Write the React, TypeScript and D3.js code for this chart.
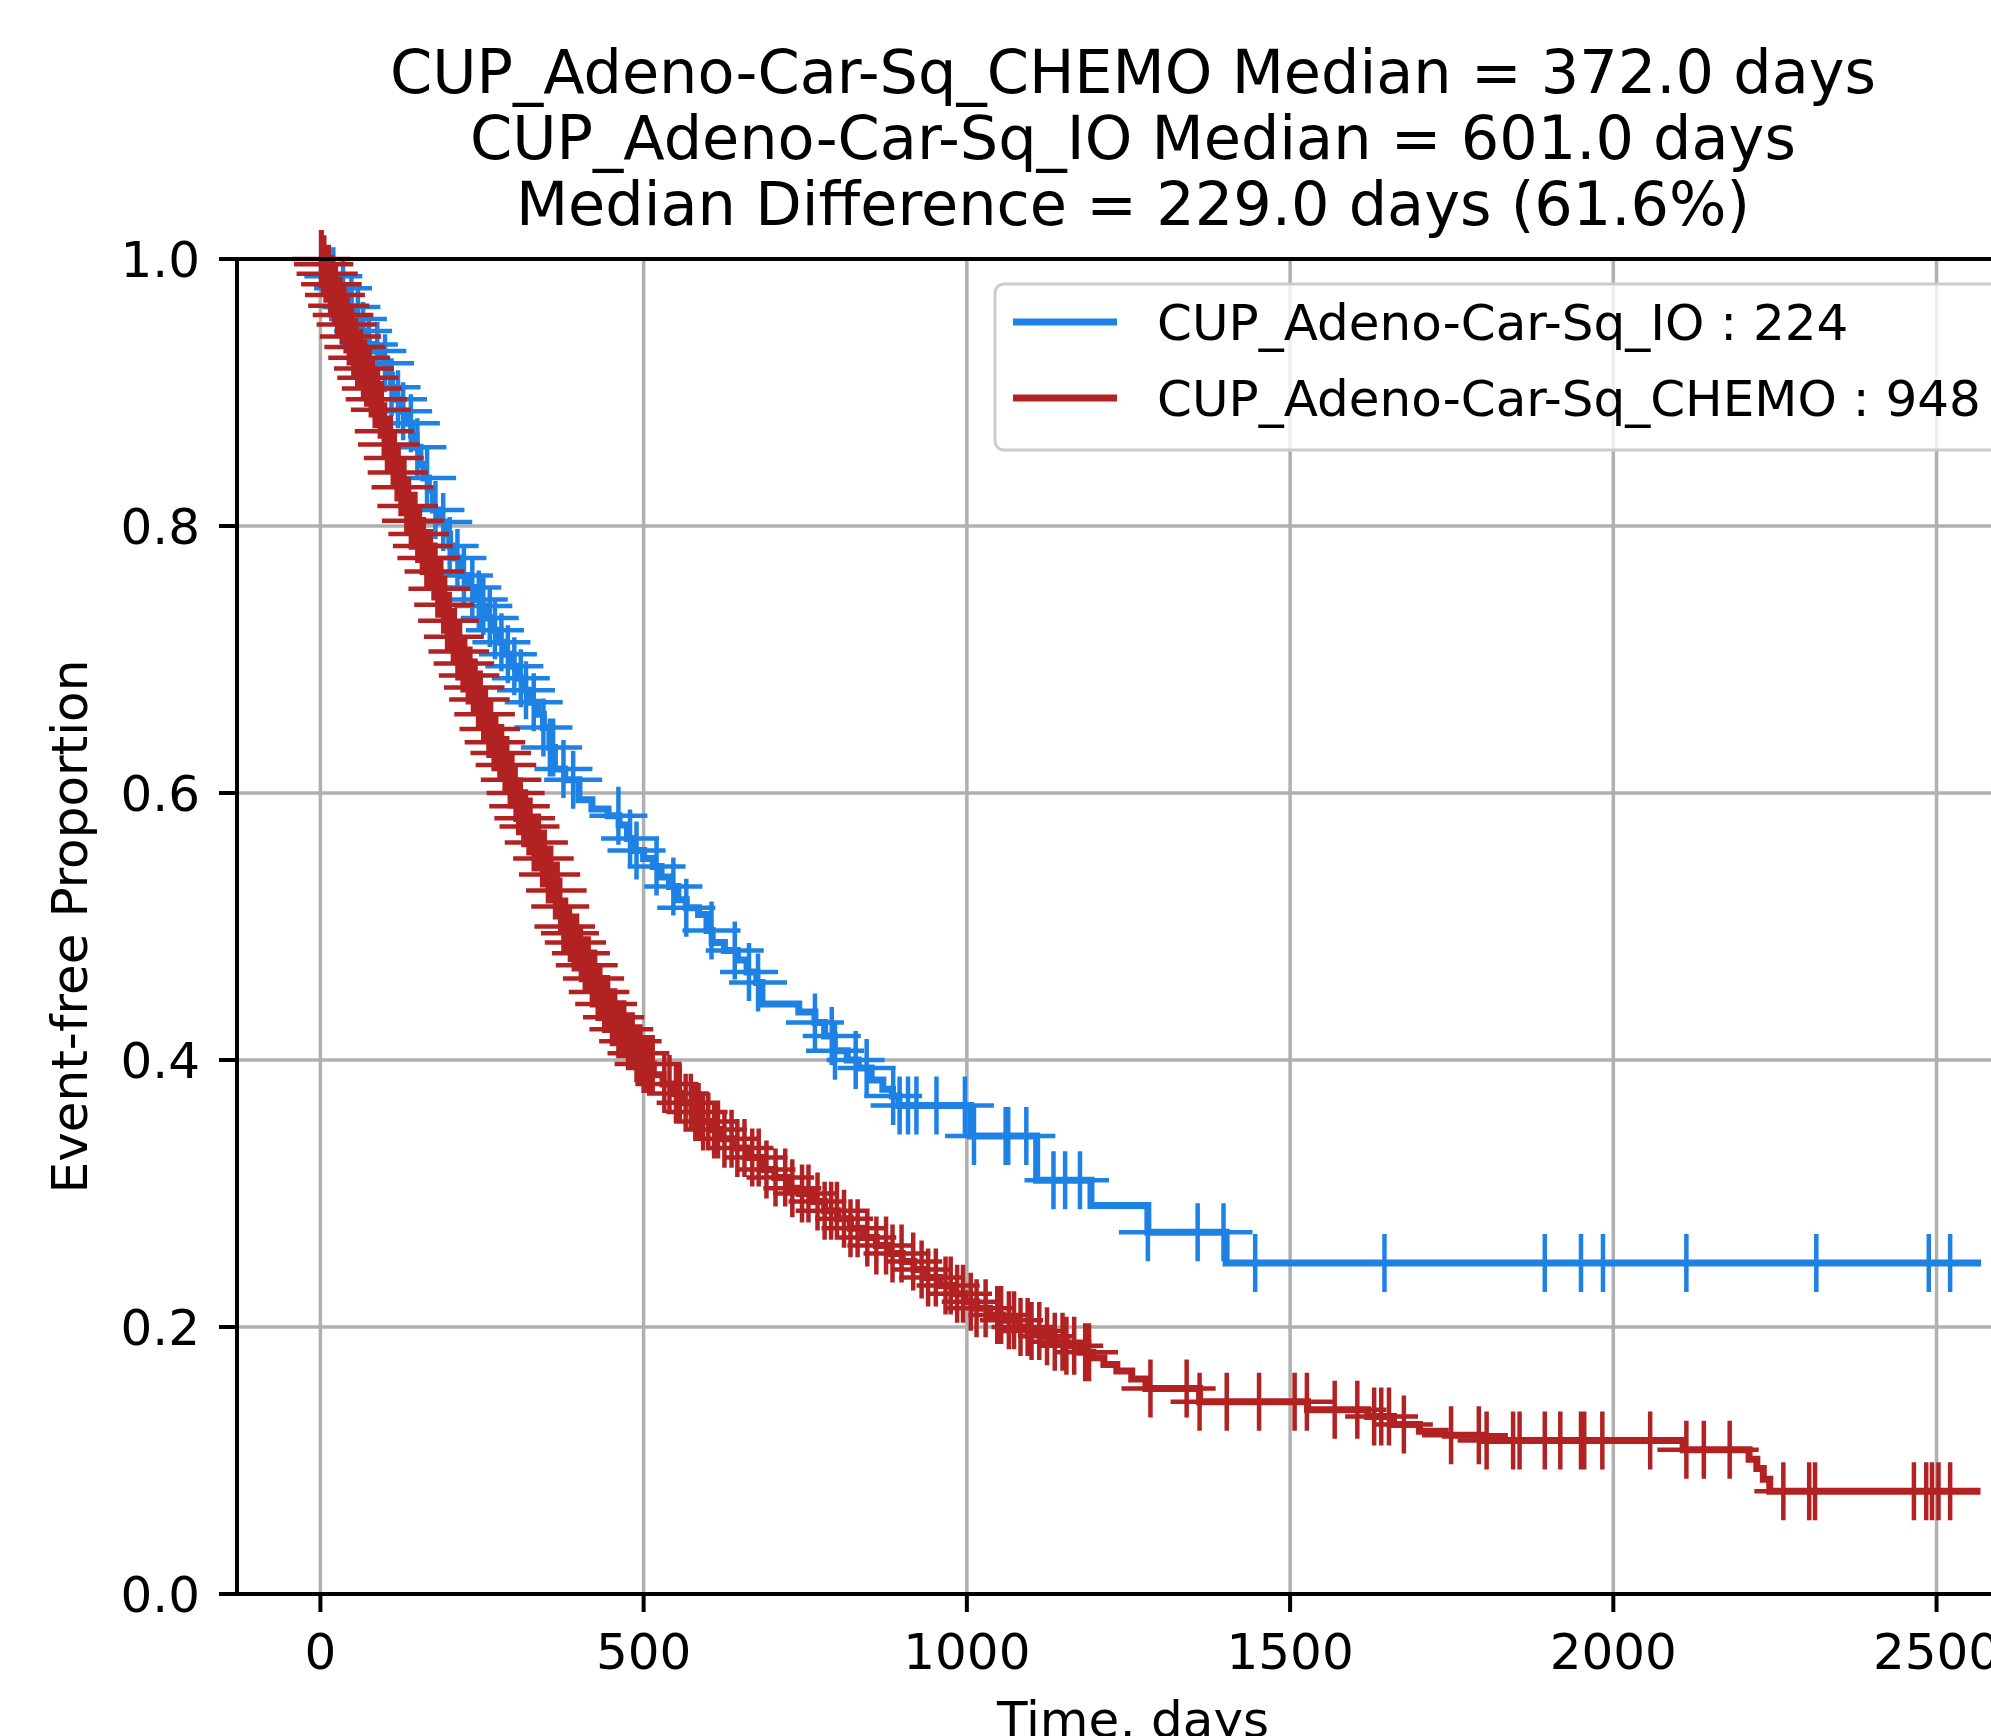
import React from 'react';
import * as d3 from 'd3';

// labels / text
const ioLabel = 'CUP_Adeno-Car-Sq_IO';
const chemoLabel = 'CUP_Adeno-Car-Sq_CHEMO';
const ioCount = 224;
const chemoCount = 948;
const titleLines = [
  'CUP_Adeno-Car-Sq_CHEMO Median = 372.0 days',
  'CUP_Adeno-Car-Sq_IO Median = 601.0 days',
  'Median Difference = 229.0 days (61.6%)',
];
const xTicks = [0, 500, 1000, 1500, 2000, 2500];
const yTicks = [0.0, 0.2, 0.4, 0.6, 0.8, 1.0];

// IO arm: step times (days) and survival after each step
const ioTimes = [0, 5, 12, 18, 25, 32, 40, 46, 53, 60, 67, 74, 82, 90, 97, 104, 110, 118, 126, 134, 141, 148, 154, 160, 167, 175, 183, 192, 200, 208, 218, 228, 238, 248, 258, 268, 278, 288, 298, 306, 316, 326, 336, 345, 355, 362, 378, 400, 420, 445, 462, 475, 486, 500, 515, 527, 540, 553, 566, 585, 598, 606, 625, 645, 660, 675, 683, 740, 765, 780, 795, 815, 832, 852, 870, 885, 895, 1006, 1108, 1192, 1280, 1401];
const ioSurv = [1.0, 0.996, 0.991, 0.987, 0.982, 0.978, 0.973, 0.964, 0.955, 0.946, 0.941, 0.936, 0.931, 0.927, 0.922, 0.913, 0.904, 0.895, 0.886, 0.877, 0.868, 0.859, 0.846, 0.836, 0.827, 0.812, 0.803, 0.794, 0.785, 0.776, 0.763, 0.754, 0.745, 0.740, 0.731, 0.722, 0.713, 0.704, 0.695, 0.686, 0.677, 0.668, 0.659, 0.649, 0.634, 0.618, 0.610, 0.595, 0.588, 0.583, 0.576, 0.566, 0.557, 0.551, 0.545, 0.537, 0.530, 0.520, 0.514, 0.509, 0.497, 0.488, 0.482, 0.475, 0.466, 0.458, 0.442, 0.436, 0.428, 0.418, 0.407, 0.400, 0.394, 0.385, 0.378, 0.373, 0.366, 0.343, 0.310, 0.291, 0.271, 0.248];
const ioEnd = 2569;
const ioCensored = [20, 35, 48, 58, 66, 75, 88, 100, 110, 120, 128, 140, 150, 165, 178, 190, 200, 212, 222, 235, 245, 252, 262, 270, 280, 290, 300, 310, 318, 330, 345, 355, 360, 376, 391, 461, 479, 489, 520, 546, 566, 605, 641, 663, 677, 765, 791, 796, 828, 845, 886, 896, 909, 922, 953, 997, 1011, 1060, 1064, 1092, 1134, 1152, 1175, 1280, 1357, 1397, 1446, 1646, 1894, 1950, 1984, 2113, 2314, 2488, 2521];

// CHEMO arm
const chemoTimes = [0, 3, 8, 14, 20, 26, 32, 38, 44, 50, 57, 64, 70, 77, 84, 90, 97, 103, 110, 117, 124, 132, 140, 148, 156, 164, 172, 180, 188, 195, 202, 210, 218, 226, 234, 241, 250, 258, 266, 274, 282, 290, 298, 306, 313, 320, 330, 340, 350, 360, 368, 375, 382, 390, 398, 408, 418, 428, 437, 448, 460, 472, 486, 500, 515, 530, 545, 560, 575, 590, 604, 622, 640, 660, 683, 703, 722, 741, 761, 780, 800, 820, 840, 860, 880, 900, 918, 938, 958, 978, 997, 1015, 1035, 1055, 1075, 1095, 1115, 1135, 1154, 1175, 1195, 1212, 1232, 1255, 1277, 1360, 1527, 1620, 1660, 1700, 1740, 1800, 2108, 2210, 2222, 2232, 2242];
const chemoSurv = [1.0, 0.996, 0.989, 0.981, 0.973, 0.965, 0.958, 0.951, 0.942, 0.934, 0.926, 0.918, 0.911, 0.903, 0.895, 0.887, 0.871, 0.861, 0.851, 0.840, 0.829, 0.815, 0.804, 0.794, 0.785, 0.776, 0.766, 0.753, 0.741, 0.729, 0.717, 0.706, 0.697, 0.688, 0.679, 0.670, 0.659, 0.648, 0.638, 0.630, 0.621, 0.610, 0.600, 0.590, 0.581, 0.575, 0.563, 0.551, 0.539, 0.527, 0.515, 0.500, 0.495, 0.488, 0.480, 0.471, 0.461, 0.451, 0.442, 0.432, 0.423, 0.414, 0.405, 0.397, 0.389, 0.382, 0.375, 0.368, 0.361, 0.354, 0.348, 0.341, 0.334, 0.327, 0.318, 0.312, 0.304, 0.300, 0.294, 0.287, 0.281, 0.274, 0.267, 0.261, 0.255, 0.249, 0.243, 0.237, 0.231, 0.225, 0.219, 0.214, 0.209, 0.205, 0.200, 0.197, 0.193, 0.189, 0.186, 0.181, 0.177, 0.172, 0.167, 0.161, 0.154, 0.144, 0.138, 0.133, 0.127, 0.122, 0.119, 0.115, 0.108, 0.101, 0.094, 0.086, 0.077];
const chemoEnd = 2568;
const chemoCensored = [1, 2, 4, 6, 8, 10, 12, 13, 15, 17, 19, 21, 23, 24, 26, 28, 30, 31, 33, 35, 37, 39, 41, 42, 44, 46, 48, 49, 51, 53, 55, 57, 59, 61, 63, 66, 68, 69, 71, 73, 76, 78, 80, 81, 84, 86, 89, 92, 94, 95, 98, 100, 103, 106, 109, 112, 114, 115, 118, 121, 124, 127, 130, 133, 135, 137, 140, 143, 147, 150, 152, 154, 157, 160, 164, 167, 169, 171, 175, 178, 181, 184, 187, 190, 193, 196, 200, 205, 208, 212, 216, 220, 224, 228, 232, 236, 240, 244, 248, 252, 256, 260, 264, 268, 272, 277, 281, 285, 289, 293, 297, 302, 306, 310, 314, 318, 322, 325, 330, 334, 338, 343, 347, 352, 357, 363, 367, 371, 376, 380, 386, 392, 397, 403, 409, 415, 420, 425, 429, 433, 439, 445, 451, 456, 461, 465, 470, 476, 480, 483, 489, 495, 500, 505, 510, 514, 532, 540, 550, 556, 565, 573, 580, 585, 592, 600, 609, 615, 625, 636, 645, 656, 668, 678, 690, 704, 719, 730, 745, 755, 769, 780, 790, 799, 810, 820, 831, 846, 860, 875, 885, 899, 917, 930, 940, 952, 967, 975, 985, 994, 1006, 1015, 1029, 1047, 1053, 1065, 1073, 1083, 1094, 1100, 1112, 1124, 1136, 1148, 1154, 1166, 1183, 1189, 1284, 1340, 1360, 1402, 1452, 1507, 1526, 1569, 1604, 1630, 1641, 1653, 1676, 1749, 1792, 1804, 1845, 1855, 1894, 1918, 1950, 1955, 1983, 2057, 2113, 2140, 2180, 2263, 2303, 2312, 2465, 2484, 2493, 2503, 2521];

const ioColor = '#1e82e4';
const chemoColor = '#b22222';
const font = 'DejaVu Sans';

const W = 1991;
const H = 1736;
const plot = { left: 237, right: 2029, top: 259, bottom: 1594 };

const x = d3.scaleLinear().domain([-129, 2643]).range([plot.left, plot.right]);
const y = d3.scaleLinear().domain([0, 1]).range([plot.bottom, plot.top]);

const survAt = (times: number[], surv: number[], t: number) => {
  const i = d3.bisectRight(times, t);
  return i === 0 ? 1 : surv[i - 1];
};

const stepLine = d3
  .line<[number, number]>()
  .x((d) => x(d[0]))
  .y((d) => y(d[1]))
  .curve(d3.curveStepAfter);

const Curve = ({ times, surv, end, censored, color }: any) => {
  const pts: [number, number][] = times.map((t: number, i: number) => [t, surv[i]]);
  pts.push([end, surv[surv.length - 1]]);
  const ms = 29;
  const marks = censored
    .map((t: number) => {
      const cx = x(t);
      const cy = y(survAt(times, surv, t));
      return `M${cx - ms},${cy}h${ms * 2}M${cx},${cy - ms}v${ms * 2}`;
    })
    .join('');
  return (
    <g>
      <path d={stepLine(pts) || ''} fill="none" stroke={color} strokeWidth={7} />
      <path d={marks} fill="none" stroke={color} strokeWidth={4.5} />
    </g>
  );
};

export default function App() {
  const midX = (plot.left + plot.right) / 2;
  return (
    <svg
      width={W}
      height={H}
      style={{ position: 'absolute', left: 0, top: 0, background: '#fff' }}
      fontFamily={font}
    >
      <rect x={0} y={0} width={W} height={H} fill="#fff" />

      {/* title */}
      {titleLines.map((s, i) => (
        <text key={s} x={midX} y={93 + i * 66} fontSize={60.5} textAnchor="middle" fill="#000">
          {s}
        </text>
      ))}

      {/* grid */}
      <g stroke="#b0b0b0" strokeWidth={3.5}>
        {xTicks.map((t) => (
          <line key={'gx' + t} x1={x(t)} x2={x(t)} y1={plot.top} y2={plot.bottom} />
        ))}
        {yTicks.map((t) => (
          <line key={'gy' + t} x1={plot.left} x2={plot.right} y1={y(t)} y2={y(t)} />
        ))}
      </g>

      {/* curves */}
      <Curve times={ioTimes} surv={ioSurv} end={ioEnd} censored={ioCensored} color={ioColor} />
      <Curve times={chemoTimes} surv={chemoSurv} end={chemoEnd} censored={chemoCensored} color={chemoColor} />

      {/* spines */}
      <rect
        x={plot.left}
        y={plot.top}
        width={plot.right - plot.left}
        height={plot.bottom - plot.top}
        fill="none"
        stroke="#000"
        strokeWidth={4}
      />

      {/* ticks */}
      <g stroke="#000" strokeWidth={4}>
        {xTicks.map((t) => (
          <line key={'tx' + t} x1={x(t)} x2={x(t)} y1={plot.bottom} y2={plot.bottom + 18} />
        ))}
        {yTicks.map((t) => (
          <line key={'ty' + t} x1={plot.left - 18} x2={plot.left} y1={y(t)} y2={y(t)} />
        ))}
      </g>
      <g fontSize={50} fill="#000">
        {xTicks.map((t) => (
          <text key={'lx' + t} x={x(t)} y={1669} textAnchor="middle">
            {t}
          </text>
        ))}
        {yTicks.map((t) => (
          <text key={'ly' + t} x={200} y={y(t) + 18} textAnchor="end">
            {t.toFixed(1)}
          </text>
        ))}
      </g>

      {/* axis labels */}
      <text x={midX} y={1737} fontSize={50} textAnchor="middle">
        Time, days
      </text>
      <text transform={`translate(87, ${(plot.top + plot.bottom) / 2}) rotate(-90)`} fontSize={50} textAnchor="middle">
        Event-free Proportion
      </text>

      {/* legend */}
      <g>
        <rect x={995} y={284} width={1009} height={166} rx={9} fill="#fff" fillOpacity={0.8} stroke="#cccccc" strokeWidth={3} />
        {[
          { label: `${ioLabel} : ${ioCount}`, color: ioColor },
          { label: `${chemoLabel} : ${chemoCount}`, color: chemoColor },
        ].map((d, i) => (
          <g key={d.label}>
            <line x1={1013} x2={1117} y1={322 + i * 76} y2={322 + i * 76} stroke={d.color} strokeWidth={7} />
            <text x={1157} y={340 + i * 76} fontSize={50} fill="#000">
              {d.label}
            </text>
          </g>
        ))}
      </g>
    </svg>
  );
}
